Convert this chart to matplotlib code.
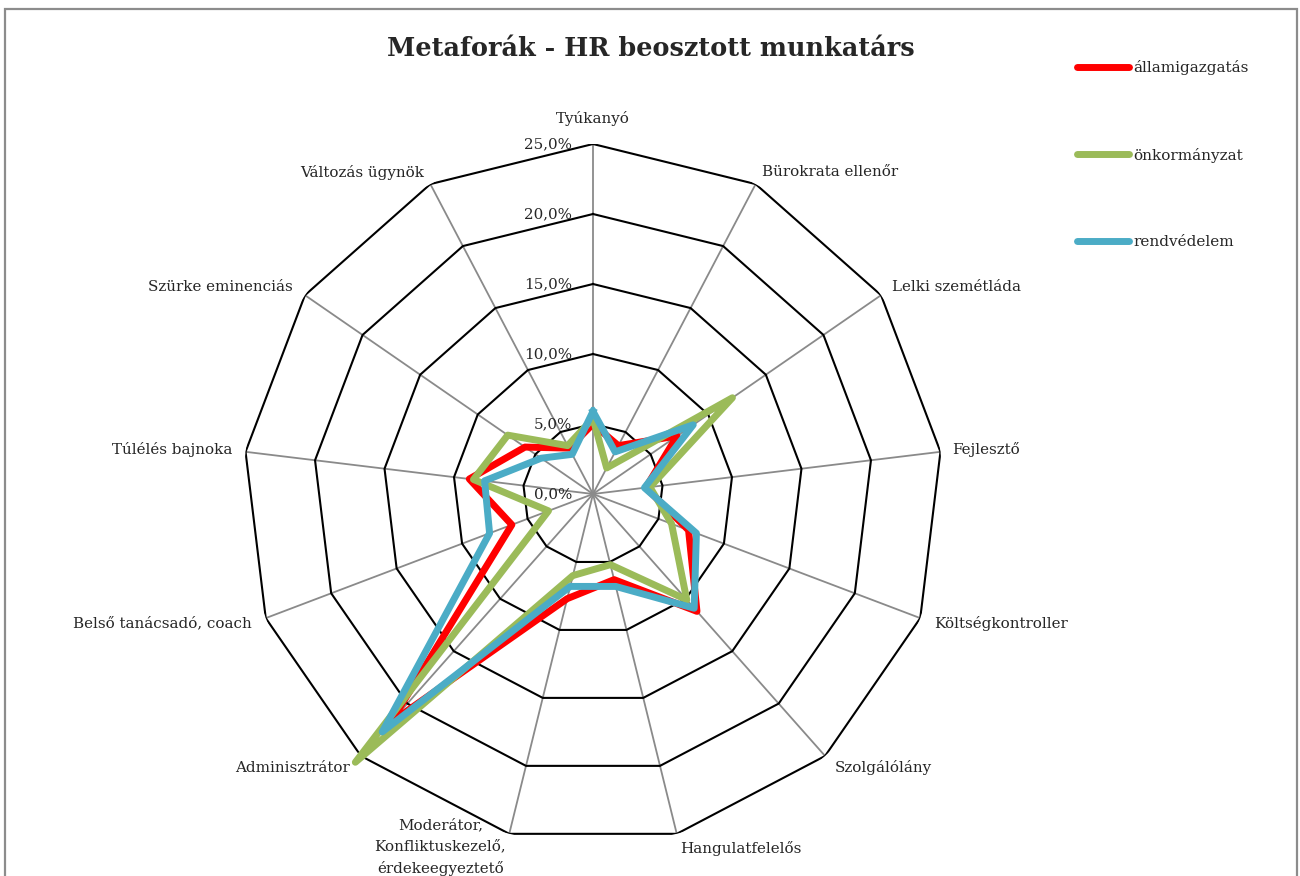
import matplotlib
matplotlib.use("Agg")
import numpy as np
import matplotlib.pyplot as plt
from matplotlib.patches import Rectangle

# Categories, clockwise from the top spoke
categories = [
    "Tyúkanyó",
    "Bürokrata ellenőr",
    "Lelki szemétláda",
    "Fejlesztő",
    "Költségkontroller",
    "Szolgálólány",
    "Hangulatfelelős",
    "Moderátor,\nKonfliktuskezelő,\nérdekeegyeztető",
    "Adminisztrátor",
    "Belső tanácsadó, coach",
    "Túlélés bajnoka",
    "Szürke eminenciás",
    "Változás ügynök",
]

# Shares (%) per sector
allamigazgatas = [5.0, 3.9, 7.3, 3.8, 7.3, 11.2, 6.3, 7.7, 21.8, 6.2, 8.9, 5.9, 3.7]
onkormanyzat = [5.4, 2.1, 12.1, 4.1, 6.0, 10.1, 5.2, 6.0, 25.6, 3.4, 8.6, 7.4, 3.9]
rendvedelem = [5.9, 3.4, 8.7, 3.7, 7.9, 10.9, 6.8, 6.8, 22.7, 7.9, 7.8, 4.5, 3.2]

series_names = ["államigazgatás", "önkormányzat", "rendvédelem"]
series_colors = ["#FF0000", "#9BBB59", "#4BACC6"]

levels = [0, 5, 10, 15, 20, 25]
level_labels = ["0,0%", "5,0%", "10,0%", "15,0%", "20,0%", "25,0%"]

title = "Metaforák - HR beosztott munkatárs"

# ---- layout ----
W, H = 1300, 876
FONT = "DejaVu Serif"
TXT = "#262626"
FS = 10.9

fig = plt.figure(figsize=(W / 100, H / 100), dpi=100)
fig.patch.set_facecolor("white")

# chart-area border (bottom edge falls outside the canvas)
fig.add_artist(Rectangle((5 / W, -0.1), (1297 - 5) / W, 0.1 + (H - 9) / H,
                         transform=fig.transFigure, fill=False,
                         ec="#8c8c8c", lw=1.6))

cx, cy, R = 593, 494, 350
ax = fig.add_axes([(cx - R) / W, (H - cy - R) / H, 2 * R / W, 2 * R / H],
                  projection="polar")
ax.set_theta_offset(np.pi / 2)
ax.set_theta_direction(-1)
ax.set_ylim(0, levels[-1])
ax.grid(False)
ax.spines["polar"].set_visible(False)
ax.set_xticks([])
ax.set_yticks([])
ax.patch.set_alpha(0)

n = len(categories)
theta = np.arange(n) * 2 * np.pi / n
closed = np.append(theta, theta[0])

# spokes
for t in theta:
    ax.plot([t, t], [0, levels[-1]], color="#8a8a8a", lw=1.3, zorder=1)
# polygon rings
for lvl in levels[1:]:
    ax.plot(closed, [lvl] * (n + 1), color="black", lw=1.5, zorder=2)

# ring value labels beside the top spoke
for lvl, lab in zip(levels, level_labels):
    ax.annotate(lab, xy=(0, lvl), xytext=(-21, 0), textcoords="offset pixels",
                ha="right", va="center", fontsize=FS, family=FONT, color=TXT)

# data series
handles = []
for vals, name, col in zip([allamigazgatas, onkormanyzat, rendvedelem],
                           series_names, series_colors):
    ln, = ax.plot(closed, list(vals) + [vals[0]], color=col, lw=5,
                  solid_joinstyle="round", label=name, zorder=3, clip_on=False)
    handles.append(ln)

# category labels around the outer ring
label_offsets = [(0, 26, "center"), (6, 12, "left"), (11, 8, "left"),
                 (12, 2, "left"), (14, -5, "left"), (10, -12, "left"),
                 (3, -15, "left"), (-3, 0, "right"), (-11, -12, "right"),
                 (-14, -5, "right"), (-13, 2, "right"), (-12, 8, "right"),
                 (-6, 12, "right")]
for t, lab, (dx, dy, ha) in zip(theta, categories, label_offsets):
    if "\n" in lab:
        ax.annotate(lab, xy=(t, levels[-1]), xytext=(dx, 16),
                    textcoords="offset pixels", ha=ha, va="top",
                    multialignment="center", linespacing=1.68,
                    fontsize=FS, family=FONT, color=TXT,
                    annotation_clip=False)
    else:
        ax.annotate(lab, xy=(t, levels[-1]), xytext=(dx, dy),
                    textcoords="offset pixels", ha=ha, va="center",
                    fontsize=FS, family=FONT, color=TXT,
                    annotation_clip=False)

fig.text(651 / W, 1 - 49 / H, title, ha="center", va="center",
         fontsize=18.4, weight="bold", family=FONT, color=TXT)

leg = fig.legend(handles=handles, labels=series_names, loc="upper left",
                 bbox_to_anchor=(1077 / W, 1 - 60 / H), frameon=False,
                 labelspacing=4.75, handlelength=3.4, handletextpad=0.3,
                 borderpad=0, borderaxespad=0,
                 prop={"family": FONT, "size": 11})
for h in leg.get_lines():
    h.set_solid_capstyle("round")
for t in leg.get_texts():
    t.set_color(TXT)

fig.savefig("out.png", dpi=100, facecolor="white")
